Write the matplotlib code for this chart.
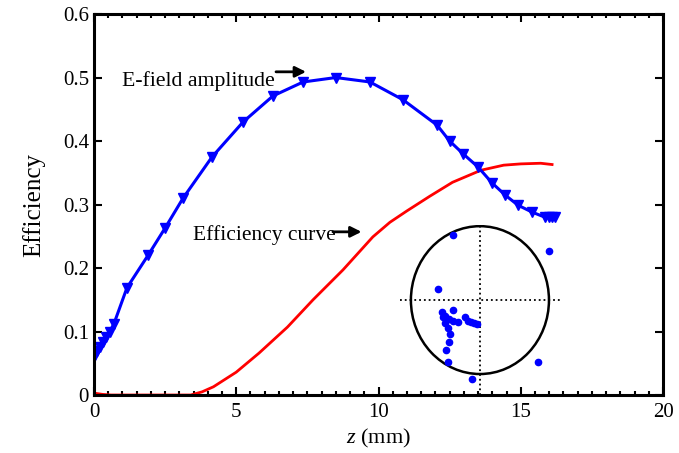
import matplotlib.pyplot as plt
from matplotlib.patches import Ellipse
from matplotlib.ticker import MultipleLocator

plt.rcParams['font.family'] = ['Liberation Serif', 'DejaVu Serif']
plt.rcParams['mathtext.fontset'] = 'custom'
plt.rcParams['mathtext.rm'] = 'Liberation Serif'
plt.rcParams['mathtext.it'] = 'Liberation Serif:italic'

# E-field amplitude (blue, down triangles)
z_field = [0, 0.05, 0.12, 0.2, 0.3, 0.42, 0.55, 0.7, 1.16, 1.9, 2.5, 3.13, 4.15, 5.24,
           6.29, 7.35, 8.5, 9.7, 10.86, 12.06, 12.5, 12.97, 13.5, 13.99, 14.45, 14.9,
           15.4, 15.85, 16.0, 16.1, 16.2]
e_field = [0.06, 0.064, 0.07, 0.076, 0.083, 0.092, 0.1, 0.112, 0.169, 0.22, 0.263, 0.31,
           0.375, 0.43, 0.471, 0.493, 0.5, 0.493, 0.465, 0.425, 0.4, 0.38, 0.359, 0.334,
           0.315, 0.299, 0.288, 0.28, 0.28, 0.28, 0.28]

# efficiency curve (red)
z_eff = [0, 0.3, 0.6, 1.5, 2.5, 3.4, 3.8, 4.2, 5.0, 5.8, 6.8, 7.7, 8.75, 9.8, 10.4,
         11.0, 11.8, 12.6, 13.6, 14.4, 15.0, 15.7, 16.1]
eff = [0.003, 0.001, 0, 0, 0, 0, 0.005, 0.013, 0.036, 0.066, 0.107, 0.15, 0.197, 0.249,
       0.272, 0.29, 0.313, 0.335, 0.354, 0.362, 0.364, 0.365, 0.363]

# inset scatter (normalised to unit circle)
u_pts = [-0.39, 1.0, -0.61, -0.39, -0.55, -0.51, -0.45, -0.39, -0.32, -0.22, -0.17, -0.13,
         -0.09, -0.04, -0.54, -0.51, -0.46, -0.43, -0.45, -0.49, -0.46, 0.84, -0.12]
v_pts = [0.88, 0.66, 0.15, -0.14, -0.16, -0.22, -0.26, -0.28, -0.30, -0.23, -0.28, -0.30,
         -0.31, -0.32, -0.23, -0.31, -0.38, -0.46, -0.57, -0.68, -0.84, -0.84, -1.07]

fig = plt.figure(figsize=(6.79, 4.53), dpi=100)
ax = fig.add_axes([0.1384, 0.128, 0.8381, 0.841])

ax.plot(z_eff, eff, color='red', lw=2.0)
ax.plot(z_field, e_field, color='blue', lw=2.2, marker='v', ms=7, mec='blue', mfc='blue')

ax.set_xlim(0, 20)
ax.set_ylim(0, 0.6)
ax.xaxis.set_major_locator(MultipleLocator(5))
ax.xaxis.set_minor_locator(MultipleLocator(0.5))
ax.set_yticks([0, 0.1, 0.2, 0.3, 0.4, 0.5, 0.6])
ax.set_yticklabels(['0', '0.1', '0.2', '0.3', '0.4', '0.5', '0.6'])
ax.tick_params(which='both', direction='in', top=True, right=True, labelsize=15, width=1.5)
ax.tick_params(which='major', length=6)
ax.tick_params(which='minor', length=3)
ax.tick_params(axis='x', pad=6)
for s in ax.spines.values():
    s.set_linewidth(2.2)

ax.set_xlabel(r'$\it{z}$ (mm)', fontsize=16, labelpad=3)
ax.set_ylabel('Efficiency', fontsize=18, labelpad=13)

ax.text(1.0, 0.487, 'E-field amplitude', fontsize=15.7, va='baseline', ha='left')
ax.annotate('', xy=(7.55, 0.509), xytext=(6.3, 0.509),
            arrowprops=dict(arrowstyle='-|>', color='black', lw=2.0, mutation_scale=16))
ax.text(3.48, 0.244, 'Efficiency curve', fontsize=15.5, va='baseline', ha='left')
ax.annotate('', xy=(9.5, 0.257), xytext=(8.3, 0.257),
            arrowprops=dict(arrowstyle='-|>', color='black', lw=2.0, mutation_scale=16))

# inset polar-like diagram
ins = fig.add_axes([0.589, 0.128, 0.2386, 0.375])
ins.set_xlim(-1.159, 1.188)
ins.set_ylim(-1.284, 1.014)
ins.axis('off')
ins.patch.set_alpha(0)
ins.add_patch(Ellipse((0, 0), 2, 2, fill=False, ec='black', lw=1.8))
ins.plot([-1.159, 1.188], [0, 0], color='black', ls=':', lw=1.3)
ins.plot([0, 0], [-1.284, 1.014], color='black', ls=':', lw=1.3)
ins.plot(u_pts, v_pts, 'o', color='blue', ms=4.5, ls='none')

fig.savefig('out.png', dpi=100)
